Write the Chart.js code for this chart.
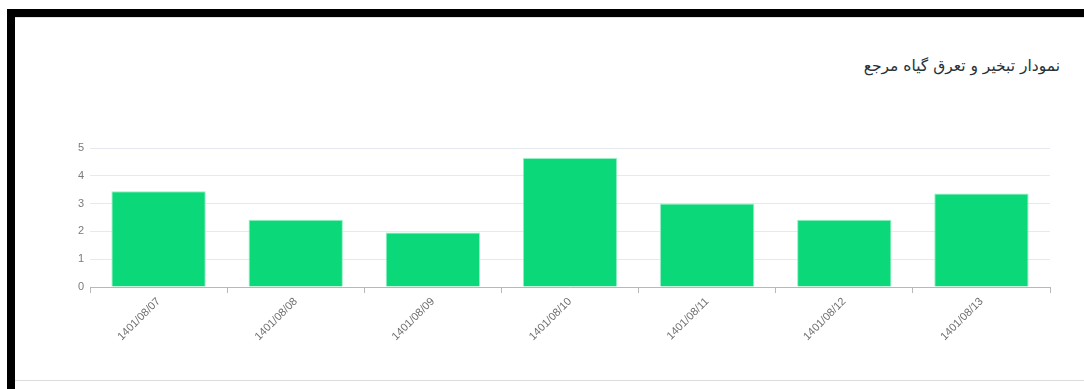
<!DOCTYPE html>
<html>
<head>
<meta charset="utf-8">
<script src="https://cdn.jsdelivr.net/npm/chart.js@4.4.1/dist/chart.umd.min.js"></script>
<style>
  html, body { margin: 0; padding: 0; background: #fff; width: 1084px; height: 389px; overflow: hidden; }
  #frame { position: absolute; left: 7px; top: 9px; width: 1077px; height: 380px;
           border-left: 8px solid #000; border-top: 8px solid #000; box-sizing: border-box; }
  #topline { position: absolute; left: 15px; top: 17px; width: 1069px; height: 1px; background: #e2e2e2; }
  #bottomline { position: absolute; left: 15px; top: 380px; width: 1069px; height: 1px; background: #dcdcdc; }
  #title { position: absolute; right: 24px; top: 56px; line-height: 20px; direction: rtl; font-family: "DejaVu Sans", sans-serif;
           font-size: 15.5px; color: #263238; white-space: nowrap; }
  #c { position: absolute; left: 0; top: 0; }
</style>
</head>
<body>
<div id="frame"></div>
<div id="topline"></div>
<div id="bottomline"></div>
<div id="title">نمودار تبخیر و تعرق گیاه مرجع</div>
<canvas id="c" width="1084" height="389"></canvas>
<script>
const categories = ["1401/08/07", "1401/08/08", "1401/08/09", "1401/08/10", "1401/08/11", "1401/08/12", "1401/08/13"];
const values = [3.44, 2.42, 1.96, 4.64, 3.0, 2.42, 3.36];
const yTicks = [0, 1, 2, 3, 4, 5];

new Chart(document.getElementById('c'), {
  type: 'bar',
  data: {
    labels: categories,
    datasets: [{
      data: values,
      backgroundColor: '#0bd979',
      borderColor: 'rgba(150,240,195,1)',
      borderWidth: 1,
      barPercentage: 0.86,
      categoryPercentage: 0.8
    }]
  },
  options: {
    responsive: false,
    animation: false,
    layout: { padding: { top: 148, right: 34, bottom: 0, left: 0 } },
    plugins: { legend: { display: false }, title: { display: false }, tooltip: { enabled: false } },
    scales: {
      x: {
        grid: { drawOnChartArea: false, drawTicks: true, tickLength: 6, color: '#b8b8b8', offset: true },
        border: { color: '#b8b8b8' },
        ticks: { maxRotation: 45, minRotation: 45, color: '#6f6f6f', padding: 2,
                 font: { family: 'Liberation Sans', size: 11 } },
        afterFit: s => { s.height = 102; }
      },
      y: {
        min: 0, max: 5,
        afterBuildTicks: s => { s.ticks = yTicks.map(v => ({ value: v })); },
        grid: { color: '#e7e9f1', drawTicks: false },
        border: { display: false },
        ticks: { color: '#7a7a7a', padding: 6, font: { family: 'Liberation Sans', size: 11 } },
        afterFit: s => { s.width = 90; }
      }
    }
  }
});
</script>
</body>
</html>
